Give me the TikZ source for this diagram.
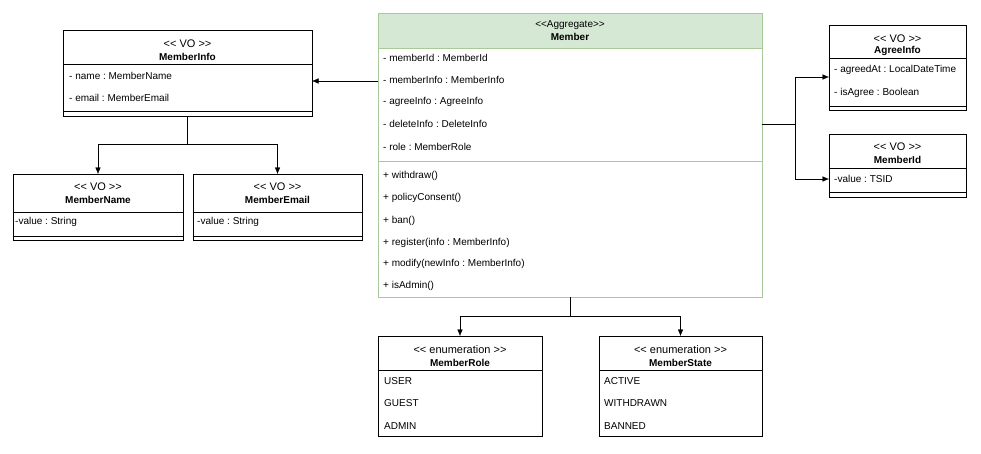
\documentclass[tikz,border=0pt]{standalone}
\usepackage{fontspec}
\setmainfont{Liberation Sans}
\usetikzlibrary{arrows.meta}
\definecolor{aggrfill}{HTML}{D5E8D4}
\definecolor{aggrline}{HTML}{A9C99A}
\newcommand{\stereo}[1]{{\fontsize{11}{13}\selectfont<\kern0pt< #1 >\kern0pt>}}
\frenchspacing
\begin{document}
\begin{tikzpicture}
	[
	x=1pt, y=-1pt, font=\fontsize{10}{12}\selectfont, >={Latex[length=6.5pt,width=5.5pt]},
	%Voreinstellungen fuer Klassen
	klasse/.style={draw, line width=0.9pt, anchor=north west, inner sep=0pt, outer sep=0pt},
	zeile/.style={anchor=west, inner sep=0pt},
	titel/.style={inner sep=0pt, font=\fontsize{10}{12}\selectfont\bfseries}
	]
	\useasboundingbox (0,0) rectangle (981,453);
	%Aggregat Member
	\fill[aggrfill] (378,13) rectangle (762,48);
	\node[klasse, draw=aggrline, minimum width=384pt, minimum height=284pt] (member) at (378,13) {};
	\draw[aggrline, line width=0.9pt] (378,48) -- (762,48) (378,161) -- (762,161);
	\node[inner sep=0pt] at (570,25) {<\kern0pt<Aggregate>\kern0pt>};
	\node[titel] at (570,37) {Member};
	\foreach \y/\t in {58/- memberId : MemberId, 80/- memberInfo : MemberInfo, 102/- agreeInfo : AgreeInfo, 124/- deleteInfo : DeleteInfo, 147/- role : MemberRole, 176/+ withdraw(), 198/+ policyConsent(), 221/+ ban(), 243/+ register(info : MemberInfo), 264/+ modify(newInfo : MemberInfo), 286/+ isAdmin()}
		\node[zeile] at (383,\y) {\t};
	%VO MemberInfo
	\node[klasse, minimum width=249pt, minimum height=86pt] (info) at (63,30) {};
	\draw[line width=0.9pt] (63,64) -- (312,64) (63,111) -- (312,111);
	\node[inner sep=0pt] at (187.5,44) {\stereo{VO}};
	\node[titel] at (187.5,57) {MemberInfo};
	\node[zeile] at (69,76) {- name : MemberName};
	\node[zeile] at (69,98) {- email : MemberEmail};
	%VO MemberName
	\node[klasse, minimum width=170pt, minimum height=66pt] (name) at (13,174) {};
	\draw[line width=0.9pt] (13,212) -- (183,212) (13,236) -- (183,236);
	\node[inner sep=0pt] at (98,187) {\stereo{VO}};
	\node[titel] at (98,200) {MemberName};
	\node[zeile] at (15,222) {-value : String};
	%VO MemberEmail
	\node[klasse, minimum width=169pt, minimum height=66pt] (email) at (193,174) {};
	\draw[line width=0.9pt] (193,212) -- (362,212) (193,236) -- (362,236);
	\node[inner sep=0pt] at (277.5,187) {\stereo{VO}};
	\node[titel] at (277.5,200) {MemberEmail};
	\node[zeile] at (197,222) {-value : String};
	%VO AgreeInfo
	\node[klasse, minimum width=137pt, minimum height=85pt] (agree) at (829,25) {};
	\draw[line width=0.9pt] (829,58) -- (966,58) (829,106) -- (966,106);
	\node[inner sep=0pt] at (897.5,39) {\stereo{VO}};
	\node[titel] at (897.5,51) {AgreeInfo};
	\node[zeile] at (834,70) {- agreedAt : LocalDateTime};
	\node[zeile] at (834,93) {- isAgree : Boolean};
	%VO MemberId
	\node[klasse, minimum width=137pt, minimum height=63pt] (memberid) at (829,134) {};
	\draw[line width=0.9pt] (829,168) -- (966,168) (829,192) -- (966,192);
	\node[inner sep=0pt] at (897.5,147) {\stereo{VO}};
	\node[titel] at (897.5,160) {MemberId};
	\node[zeile] at (834,179) {-value : TSID};
	%Enum MemberRole
	\node[klasse, minimum width=164pt, minimum height=100pt] (role) at (378,336) {};
	\draw[line width=0.9pt] (378,370) -- (542,370);
	\node[inner sep=0pt] at (460,350) {\stereo{enumeration}};
	\node[titel] at (460,363) {MemberRole};
	\node[zeile] at (384,381) {USER};
	\node[zeile] at (384,403) {GUEST};
	\node[zeile] at (384,426) {ADMIN};
	%Enum MemberState
	\node[klasse, minimum width=163pt, minimum height=100pt] (state) at (599,336) {};
	\draw[line width=0.9pt] (599,370) -- (762,370);
	\node[inner sep=0pt] at (680.5,350) {\stereo{enumeration}};
	\node[titel] at (680.5,363) {MemberState};
	\node[zeile] at (604,381) {ACTIVE};
	\node[zeile] at (604,403) {WITHDRAWN};
	\node[zeile] at (604,426) {BANNED};
	%Verbindungen
	\draw[->] (member.west |- 0,81) -- (info.east |- 0,81);
	\draw[->] (info.south) -- ++(0,28) -| (name.north);
	\draw[->] (info.south) -- ++(0,28) -| (email.north);
	\draw[->] (member.east |- 0,124) -- ++(33,0) |- (agree.west |- 0,77);
	\draw[->] (member.east |- 0,124) -- ++(33,0) |- (memberid.west |- 0,179);
	\draw[->] (member.south) -- ++(0,19) -| (role.north);
	\draw[->] (member.south) -- ++(0,19) -| (state.north);
\end{tikzpicture}
\end{document}
